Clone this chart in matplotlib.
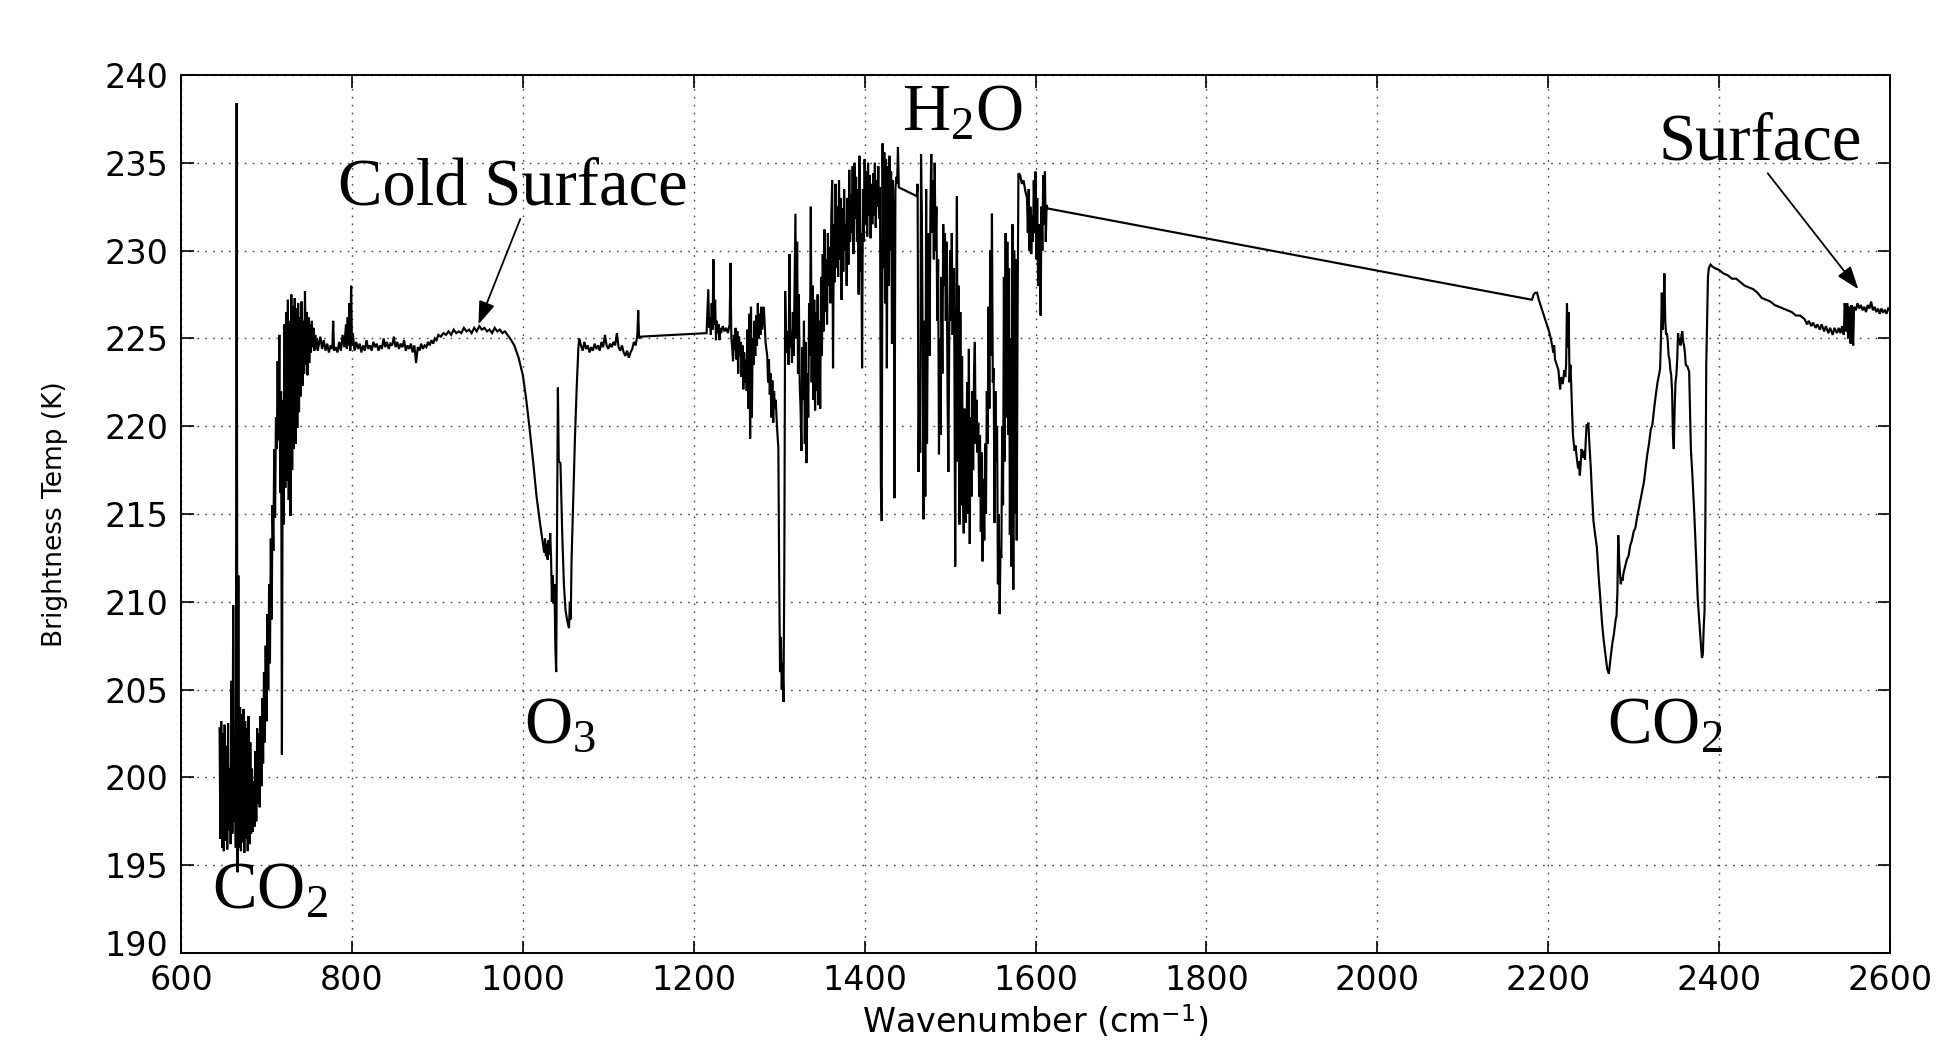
import matplotlib
matplotlib.use("Agg")
import matplotlib.pyplot as plt
import matplotlib.transforms as mtransforms
import numpy as np

# ---------------- data (wavenumber cm^-1, brightness temperature K) ----------------
co2_band_lw = [
    (645, 202.8), (646, 196.5), (647, 203.2), (648, 196.0), (649, 202.5), (650, 195.8),
    (651, 203.0), (652, 196.4), (653, 201.8), (654, 195.9), (655, 203.1), (656, 197.0),
    (657, 200.5), (658, 196.2), (659, 205.5), (660, 196.8), (661, 209.8), (662, 197.5),
    (663, 202.0), (664, 196.0), (665, 238.4), (666, 194.6), (667, 211.5), (668, 196.0),
    (669, 204.0), (670, 195.8), (671, 203.6), (672, 196.3), (673, 203.9), (674, 195.7),
    (675, 203.2), (676, 196.5), (677, 202.8), (678, 195.8), (679, 203.5), (680, 196.2),
    (681, 202.0), (682, 196.8), (683, 200.5), (684, 196.9), (685, 199.8), (686, 197.2),
    (687, 201.5), (688, 197.5), (689, 202.8), (690, 198.5),
    (691, 202.5), (692, 198.3), (693, 203.5), (694, 199.5), (695, 204.5), (696, 200.8),
    (697, 206.0), (698, 202.0), (699, 207.5), (700, 203.2), (701, 209.3), (702, 205.0),
    (703, 211.0), (704, 206.5), (705, 213.6), (706, 209.0), (707, 215.5), (708, 212.9),
    (709, 218.7), (710, 214.8), (711, 220.5), (712, 218.7), (713, 223.7), (714, 219.2),
    (715, 225.2), (716, 216.2), (717, 222.0), (718, 201.3), (719, 221.5), (720, 214.4),
    (721, 225.8), (722, 216.5), (723, 226.5), (724, 216.9), (725, 227.2), (726, 215.8),
    (727, 226.0), (728, 214.9), (729, 227.5), (730, 217.5), (731, 226.8), (732, 218.7),
    (733, 227.3), (734, 219.0), (735, 226.7), (736, 219.9), (737, 227.0), (738, 220.8),
    (739, 226.2), (740, 221.7), (741, 227.1), (742, 222.3), (743, 226.0), (744, 223.0),
    (745, 227.7), (746, 223.5), (747, 226.5), (748, 222.9), (749, 226.2), (750, 223.6),
    (751, 225.8), (752, 224.2), (753, 226.0), (754, 224.5), (755, 225.6), (756, 224.3),
    (757, 225.2), (758, 224.4), (759, 225.0), (760, 224.3),
]

window_lw = [
    (761, 224.6), (763, 225.1), (765, 224.4), (767, 224.9), (769, 224.3), (771, 224.7),
    (773, 224.2), (775, 224.6), (777, 224.4), (778, 226.0), (779, 224.3), (781, 224.5),
    (783, 224.2), (785, 224.8), (787, 224.3), (789, 225.2), (791, 224.5), (793, 225.8),
    (794, 224.4), (795, 226.2), (796, 224.6), (797, 227.0), (798, 224.3), (799, 228.0),
    (800, 224.6), (801, 225.3), (803, 224.3), (805, 224.8), (807, 224.4), (809, 224.7),
    (811, 224.2), (813, 224.6), (815, 224.3), (817, 224.9), (819, 224.4), (821, 224.6),
    (823, 224.3), (825, 224.8), (827, 224.5), (829, 224.7), (831, 224.3), (833, 224.6),
    (835, 224.4), (837, 225.0), (839, 224.5), (841, 224.8), (843, 224.4), (845, 224.7),
    (847, 224.6), (849, 225.1), (851, 224.5), (853, 224.8), (855, 224.4), (857, 224.7),
    (859, 224.5), (861, 224.9), (863, 224.3), (865, 224.6), (867, 224.4), (869, 224.7),
    (871, 224.2), (873, 224.6), (875, 223.6), (877, 224.5), (879, 224.3), (881, 224.7),
    (883, 224.4), (885, 224.6), (887, 224.5), (889, 224.8), (891, 224.6), (893, 224.9),
    (895, 224.7), (897, 225.0), (899, 224.9), (901, 225.2), (904, 225.1), (907, 225.3),
    (910, 225.2), (913, 225.4), (916, 225.2), (919, 225.5), (922, 225.3), (925, 225.4),
    (928, 225.3), (931, 225.6), (934, 225.4), (937, 225.5), (940, 225.3), (943, 225.6),
    (946, 225.4), (949, 225.7), (952, 225.5), (955, 225.6), (958, 225.4), (961, 225.5),
    (964, 225.3), (967, 225.6), (970, 225.4), (973, 225.5), (976, 225.3), (979, 225.4),
]

o3_band = [
    (982, 225.2), (985, 225.0), (990, 224.6), (995, 223.9), (1000, 222.9), (1004, 221.5),
    (1008, 219.8), (1012, 218.0), (1016, 216.0), (1020, 214.5), (1023, 213.5), (1025, 212.8),
    (1026, 213.6), (1027, 212.6), (1028, 213.3), (1029, 212.4), (1030, 213.5), (1031, 212.7),
    (1032, 213.9), (1033, 212.5), (1034, 210.0), (1035, 211.5), (1036, 209.9), (1037, 211.0),
    (1038, 207.5), (1039, 206.0), (1040, 214.0), (1041, 222.2), (1042, 218.0), (1044, 217.9),
    (1046, 214.0), (1048, 211.0), (1050, 209.5), (1052, 208.9), (1054, 208.5), (1055, 210.0),
    (1056, 209.0), (1057, 212.4), (1059, 216.0), (1061, 219.4), (1063, 222.2), (1065, 224.5),
    (1066, 225.0),
    (1068, 224.6), (1070, 224.3), (1072, 224.8), (1074, 224.4), (1076, 224.6), (1078, 224.2),
    (1080, 224.5), (1082, 224.3), (1084, 224.7), (1086, 224.4), (1088, 224.6), (1090, 224.3),
    (1092, 224.8), (1094, 224.5), (1096, 225.2), (1098, 224.6), (1100, 224.4), (1102, 224.7),
    (1104, 224.5), (1106, 224.8), (1108, 224.6), (1110, 225.3), (1112, 224.5), (1114, 224.3),
    (1116, 224.6), (1118, 224.2), (1120, 224.0), (1122, 224.3), (1124, 223.9), (1126, 224.2),
    (1128, 224.4), (1130, 224.8), (1132, 224.6), (1134, 225.2), (1135, 226.6), (1136, 225.0),
    (1138, 225.1),
]

h2o_band = [
    (1214, 225.3), (1215, 225.3), (1216, 226.5), (1217, 227.8), (1218, 225.6), (1219, 226.2),
    (1220, 225.2), (1221, 227.0), (1222, 225.5), (1223, 229.5), (1224, 225.8), (1225, 227.2),
    (1226, 224.9), (1227, 226.0), (1228, 225.3), (1229, 225.8), (1230, 224.9), (1231, 225.6),
    (1232, 225.3), (1234, 225.7), (1236, 225.4), (1238, 225.6), (1240, 225.3), (1242, 225.8),
    (1243, 229.3), (1244, 225.0), (1245, 224.5), (1246, 223.7), (1247, 225.2), (1248, 224.3),
    (1249, 225.6), (1250, 223.8), (1251, 225.4), (1252, 223.0), (1253, 225.1), (1254, 224.0),
    (1255, 224.8), (1256, 222.8), (1257, 224.6), (1258, 222.1), (1259, 224.2), (1260, 222.5),
    (1261, 223.8), (1262, 222.0), (1263, 225.5), (1264, 221.0), (1265, 226.4), (1266, 219.3),
    (1267, 226.8), (1268, 220.5), (1269, 225.0), (1270, 223.5), (1271, 226.0), (1272, 224.0),
    (1273, 226.3), (1274, 224.6), (1275, 227.0), (1276, 225.0), (1277, 226.4), (1278, 225.2),
    (1279, 226.8), (1280, 225.5), (1282, 226.8), (1284, 224.8), (1286, 224.0), (1287, 222.5),
    (1288, 223.8), (1289, 221.8), (1290, 223.0), (1291, 220.5), (1292, 222.6), (1293, 220.2),
    (1294, 222.0), (1295, 221.0), (1296, 221.5), (1297, 220.4), (1298, 219.5), (1299, 218.8),
    (1300, 211.4), (1301, 206.0), (1302, 208.0), (1303, 205.0), (1304, 206.5), (1305, 204.3),
    (1306, 212.0), (1307, 227.7), (1308, 225.0), (1309, 224.2), (1310, 225.4), (1311, 223.5),
    (1312, 229.8), (1313, 224.5), (1314, 225.4), (1315, 223.6), (1316, 226.5), (1317, 224.0),
    (1318, 228.0), (1319, 232.1), (1320, 225.0), (1321, 230.5), (1322, 223.0), (1323, 227.5),
    (1324, 222.4), (1325, 221.0), (1326, 218.6), (1327, 224.5), (1328, 221.5), (1329, 226.0),
    (1330, 219.0), (1331, 224.8), (1332, 217.9), (1333, 223.0), (1334, 220.5), (1335, 227.0),
    (1336, 224.0), (1337, 232.5), (1338, 222.5), (1339, 228.0), (1340, 221.5), (1341, 227.2),
    (1342, 220.9), (1343, 226.5), (1344, 222.0), (1345, 227.5), (1346, 221.2), (1347, 226.0),
    (1348, 221.0), (1349, 228.5), (1350, 224.0), (1351, 229.8), (1352, 225.4), (1353, 231.2),
    (1354, 226.5), (1355, 229.5), (1356, 225.8), (1357, 231.0), (1358, 228.0), (1359, 230.2),
    (1360, 227.0), (1361, 232.0), (1362, 234.0), (1363, 223.3), (1364, 231.5), (1365, 228.2),
    (1366, 233.8), (1367, 229.0), (1368, 232.5), (1369, 228.5), (1370, 234.0), (1371, 229.5),
    (1372, 233.0), (1373, 227.2), (1374, 232.4), (1375, 228.8), (1376, 233.5), (1377, 230.0),
    (1378, 231.5), (1379, 228.0), (1380, 233.0), (1381, 229.2), (1382, 234.6), (1383, 230.5),
    (1384, 233.2), (1385, 231.0), (1386, 234.8), (1387, 229.8), (1388, 235.0), (1389, 231.8),
    (1390, 234.2), (1391, 230.5), (1392, 233.5), (1393, 227.5), (1394, 235.4), (1395, 228.8),
    (1396, 231.0), (1397, 223.3), (1398, 233.5), (1399, 230.5), (1400, 235.2), (1401, 231.5),
    (1402, 234.5), (1403, 230.8), (1404, 235.0), (1405, 232.0), (1406, 234.3), (1407, 230.7),
    (1408, 233.8), (1409, 231.5), (1410, 234.4), (1411, 232.0), (1412, 235.0), (1413, 231.3),
    (1414, 234.0), (1415, 232.5), (1416, 234.8), (1417, 231.8), (1418, 233.6), (1419, 216.7),
    (1420, 214.6), (1421, 236.1), (1422, 229.0), (1423, 235.6), (1424, 227.0), (1425, 235.2),
    (1426, 223.3), (1427, 234.8), (1428, 228.0), (1429, 235.4), (1430, 230.0), (1431, 234.5),
    (1432, 224.7), (1433, 234.0), (1434, 231.0), (1435, 215.9), (1436, 233.5), (1437, 234.2),
    (1438, 233.8), (1439, 235.9), (1440, 233.6), (1461, 233.1), (1462, 233.8), (1463, 217.4),
    (1464, 222.0), (1465, 218.5), (1466, 235.5), (1467, 232.0), (1468, 224.0), (1469, 214.7),
    (1470, 226.0), (1471, 216.0), (1472, 233.5), (1473, 219.0), (1474, 227.0), (1475, 231.0),
    (1476, 224.0), (1477, 232.5), (1478, 235.5), (1479, 231.0), (1480, 234.0), (1481, 229.5),
    (1482, 235.0), (1483, 230.0), (1484, 232.5), (1485, 226.0), (1486, 229.5), (1487, 218.4),
    (1488, 225.0), (1489, 219.5), (1490, 228.5), (1491, 223.0), (1492, 231.5), (1493, 228.0),
    (1494, 231.0), (1495, 226.0), (1496, 230.5), (1497, 222.0), (1498, 217.4), (1499, 225.0),
    (1500, 230.0), (1501, 226.0), (1502, 231.0), (1503, 225.2), (1504, 229.0), (1505, 224.5),
    (1506, 212.0), (1507, 226.0), (1508, 233.1), (1509, 218.0), (1510, 228.0), (1511, 214.4),
    (1512, 226.5), (1513, 215.5), (1514, 224.0), (1515, 216.5), (1516, 213.9), (1517, 221.0),
    (1518, 214.5), (1519, 218.0), (1520, 222.5), (1521, 215.0), (1522, 224.4), (1523, 213.3),
    (1524, 220.5), (1525, 216.0), (1526, 222.0), (1527, 217.5), (1528, 223.0), (1529, 224.8),
    (1530, 219.0), (1531, 221.5), (1532, 218.5), (1533, 220.2), (1534, 216.0), (1535, 219.5),
    (1536, 214.0), (1537, 218.5), (1538, 212.3), (1539, 217.0), (1540, 213.5), (1541, 219.0),
    (1542, 215.0), (1543, 222.0), (1544, 219.0), (1545, 226.8), (1546, 221.0), (1547, 230.0),
    (1548, 224.0), (1549, 232.1), (1550, 222.5), (1551, 223.3), (1552, 214.5), (1553, 222.0),
    (1554, 218.0), (1555, 220.0), (1556, 211.0), (1557, 215.0), (1558, 209.3), (1559, 213.0),
    (1560, 212.5), (1561, 220.0), (1562, 215.5), (1563, 228.5), (1564, 218.0), (1565, 231.0),
    (1566, 220.5), (1567, 230.5), (1568, 219.5), (1569, 229.0), (1570, 213.8), (1571, 225.0),
    (1572, 212.0), (1573, 231.5), (1574, 210.7), (1575, 230.0), (1576, 215.0), (1577, 229.5),
    (1578, 213.5), (1579, 226.0), (1580, 234.4), (1582, 234.3), (1584, 233.8), (1586, 234.0),
    (1588, 233.4), (1590, 233.0), (1591, 231.0), (1592, 233.5), (1593, 230.0), (1594, 232.5),
    (1595, 229.8), (1596, 232.0), (1597, 230.5), (1598, 234.0), (1599, 231.0), (1600, 234.5),
    (1601, 229.5), (1602, 233.0), (1603, 228.0), (1604, 231.5), (1605, 229.5), (1606, 226.3),
    (1607, 232.5), (1608, 230.0), (1609, 234.3), (1610, 231.5), (1611, 234.5), (1612, 230.5),
    (1613, 232.6), (1614, 232.4),
]

co2_band_sw = [
    (2181, 227.2), (2183, 227.5), (2185, 227.6), (2187, 227.6), (2189, 227.2), (2191, 226.9),
    (2193, 226.6), (2195, 226.3), (2197, 226.0), (2199, 225.7), (2201, 225.4), (2203, 225.0),
    (2205, 224.5), (2206, 224.2), (2207, 224.6), (2208, 223.8), (2210, 223.5), (2212, 223.2),
    (2213, 222.6), (2214, 222.1), (2215, 222.8), (2216, 222.6), (2217, 222.4), (2218, 222.8),
    (2219, 223.2), (2220, 222.8), (2221, 223.5), (2222, 227.0), (2223, 224.5), (2224, 226.5),
    (2225, 222.5), (2226, 223.5), (2227, 222.3), (2228, 220.8), (2229, 219.5), (2230, 219.0),
    (2231, 218.6), (2232, 218.9), (2233, 218.4), (2234, 218.0), (2235, 217.6), (2236, 218.0),
    (2237, 217.2), (2238, 217.8), (2239, 218.7), (2240, 218.5), (2241, 218.2), (2242, 218.6),
    (2243, 218.1), (2244, 219.2), (2245, 220.1), (2246, 220.0), (2247, 220.2), (2248, 219.2),
    (2249, 218.4), (2250, 217.5), (2251, 216.4), (2252, 215.5), (2253, 214.6), (2255, 213.8),
    (2257, 213.1), (2259, 211.5), (2261, 210.2), (2263, 208.8), (2265, 207.8), (2267, 207.0),
    (2269, 206.2), (2271, 205.9), (2273, 206.8), (2275, 207.6), (2277, 208.2), (2279, 209.0),
    (2280, 209.2), (2281, 210.5), (2282, 213.8), (2283, 212.5), (2284, 211.6), (2285, 211.0),
    (2286, 211.4), (2287, 211.2), (2288, 211.6), (2290, 212.0), (2292, 212.4), (2294, 212.6),
    (2296, 213.2), (2298, 213.5), (2300, 214.0), (2302, 214.2), (2304, 214.8), (2306, 215.3),
    (2308, 215.8), (2310, 216.3), (2312, 216.8), (2314, 217.6), (2316, 218.4), (2318, 219.0),
    (2320, 219.8), (2322, 220.1), (2324, 221.0), (2326, 221.8), (2328, 222.5), (2330, 223.0),
    (2331, 223.3), (2332, 225.0), (2333, 227.6), (2334, 225.5), (2335, 226.5), (2336, 228.7),
    (2337, 226.0), (2338, 225.2), (2339, 225.3), (2340, 224.8), (2341, 224.0), (2342, 223.8),
    (2343, 223.2), (2344, 222.9), (2345, 222.0), (2346, 219.5), (2347, 218.7), (2348, 221.0),
    (2349, 222.5), (2350, 222.9), (2351, 223.8), (2352, 225.3), (2353, 224.8), (2354, 225.0),
    (2355, 224.6), (2356, 225.2), (2357, 225.4), (2358, 224.8), (2359, 224.6), (2360, 224.2),
    (2361, 223.5), (2363, 223.4), (2365, 223.1), (2366, 221.0), (2367, 218.7), (2369, 217.0),
    (2371, 215.0), (2373, 212.7), (2375, 210.2), (2377, 208.8), (2379, 207.4), (2380, 206.8),
    (2381, 207.0), (2382, 208.5), (2383, 209.5), (2384, 215.0), (2385, 223.5), (2386, 226.0),
    (2387, 228.5), (2388, 229.0), (2390, 229.2), (2392, 229.1), (2395, 229.0), (2400, 228.9),
]

surface_sw = [
    (2405, 228.7), (2410, 228.6), (2415, 228.4), (2420, 228.4), (2425, 228.2), (2430, 228.0),
    (2435, 227.9), (2440, 227.8), (2445, 227.6), (2450, 227.3), (2455, 227.2), (2460, 227.1),
    (2465, 226.9), (2470, 226.8), (2475, 226.7), (2480, 226.6), (2485, 226.5), (2490, 226.3),
    (2495, 226.3), (2500, 226.1), (2503, 225.8), (2505, 226.0), (2508, 225.7), (2510, 225.9),
    (2513, 225.6), (2515, 225.8), (2518, 225.5), (2520, 225.8), (2523, 225.4), (2525, 225.7),
    (2528, 225.3), (2530, 225.6), (2533, 225.2), (2535, 225.6), (2538, 225.3), (2540, 225.6),
    (2542, 225.3), (2544, 225.7), (2546, 225.2), (2547, 227.0), (2548, 226.5), (2549, 225.4),
    (2550, 227.0), (2551, 225.0), (2552, 226.8), (2553, 225.4), (2554, 224.7), (2555, 226.9),
    (2556, 225.2), (2557, 224.6), (2558, 226.8), (2560, 226.6), (2562, 227.0), (2564, 226.7),
    (2566, 226.9), (2568, 226.6), (2570, 226.8), (2572, 226.5), (2574, 226.9), (2576, 226.7),
    (2578, 227.1), (2580, 226.6), (2582, 226.8), (2584, 226.5), (2586, 226.7), (2588, 226.4),
    (2590, 226.7), (2592, 226.5), (2594, 226.6), (2596, 226.4), (2598, 226.7), (2600, 226.6),
]

x_ticks = [600, 800, 1000, 1200, 1400, 1600, 1800, 2000, 2200, 2400, 2600]
y_ticks = [190, 195, 200, 205, 210, 215, 220, 225, 230, 235, 240]

# (label, x, y) for the band annotations
band_labels = [
    (r"$\mathrm{CO_2}$", 704, 192.5),
    (r"$\mathrm{O_3}$", 1044, 202.0),
    (r"$\mathrm{H_2O}$", 1515, 236.8),
    (r"$\mathrm{CO_2}$", 2337, 201.9),
]
# (label, text x, text y, arrow tail x, tail y, head x, head y)
arrow_labels = [
    ("Cold Surface", 988, 232.65, 997, 231.8, 948, 225.8),
    ("Surface", 2448, 235.2, 2457, 234.4, 2563, 227.8),
]

# ---------------- figure ----------------
plt.rcParams["mathtext.fontset"] = "custom"
plt.rcParams["mathtext.rm"] = "Liberation Serif"
plt.rcParams["mathtext.it"] = "Liberation Serif:italic"
plt.rcParams["font.family"] = ["DejaVu Sans"]

fig = plt.figure(figsize=(19.41, 10.56), dpi=100)
ax = fig.add_axes([0.0933, 0.0975, 0.8804, 0.8315])

spectrum = co2_band_lw + window_lw + o3_band + h2o_band + co2_band_sw + surface_sw
wn = np.array([p[0] for p in spectrum], dtype=float)
bt = np.array([p[1] for p in spectrum], dtype=float)
ax.plot(wn, bt, color="black", linewidth=1.55, solid_joinstyle="miter")

ax.set_xlim(600, 2600)
ax.set_ylim(190, 240)
ax.set_xticks(x_ticks)
ax.set_yticks(y_ticks)
ax.grid(True, color="#444444", linestyle=(0, (1.2, 4.5)), linewidth=1.0)
ax.tick_params(direction="in", length=9, width=1.2, top=True, right=True,
               labelsize=24)
ax.tick_params(axis="x", pad=8)
ax.tick_params(axis="y", pad=9)
for s in ax.spines.values():
    s.set_linewidth(1.4)

# nudge the lowest y tick label up a little so it clears the "600" label
ylabels = ax.get_yticklabels()
ylabels[0].set_transform(ylabels[0].get_transform() +
                         mtransforms.ScaledTranslation(0, 7 / 72, fig.dpi_scale_trans))

ax.set_xlabel(r"Wavenumber (cm$^{\mathregular{-1}}$)", fontsize=24)
ax.xaxis.set_label_coords(0.5, -0.057)
ax.set_ylabel("Brightness Temp (K)", fontsize=19)
ax.yaxis.set_label_coords(-0.066, 0.5)

for txt, x, y in band_labels:
    ax.text(x, y, txt, fontsize=48, ha="center", va="baseline", zorder=5)

for txt, tx, ty, ax0, ay0, hx, hy in arrow_labels:
    ax.text(tx, ty, txt, fontsize=48, family="Liberation Serif",
            ha="center", va="baseline", zorder=5)
    ax.annotate("", xy=(hx, hy), xytext=(ax0, ay0),
                arrowprops=dict(arrowstyle="-|>,head_length=0.7,head_width=0.25",
                                color="black", lw=1.3, shrinkA=0, shrinkB=0,
                                mutation_scale=20))

fig.savefig("out.png", dpi=100, facecolor="white")
